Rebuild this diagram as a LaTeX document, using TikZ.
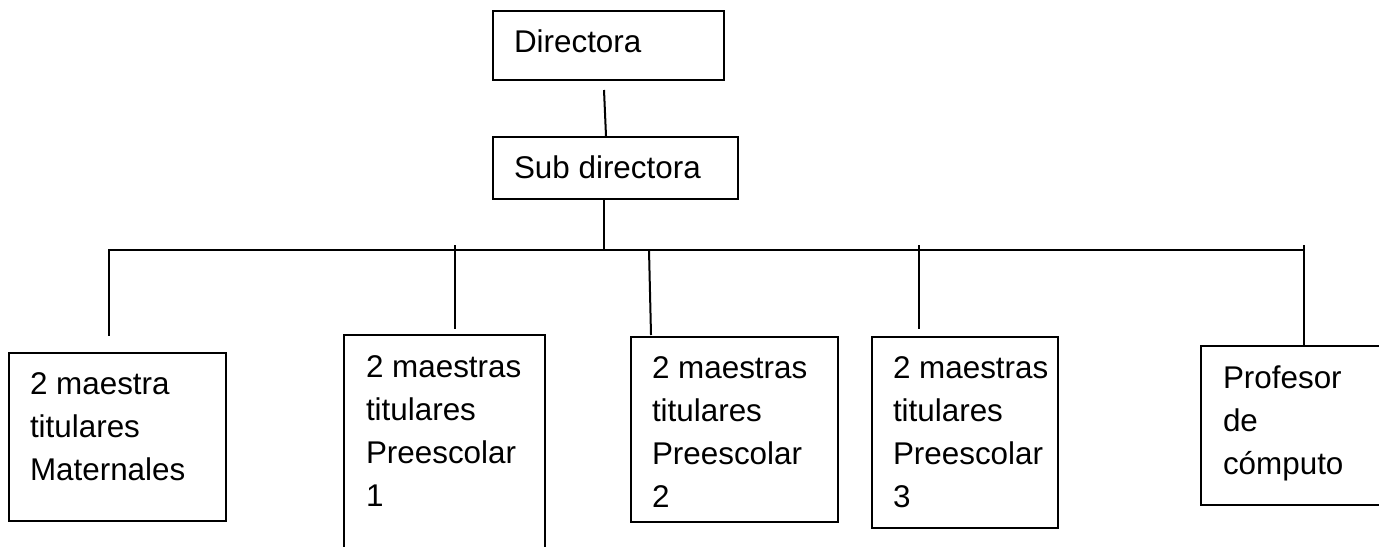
\documentclass[tikz,border=0pt]{standalone}
\usepackage{fontspec}
\setmainfont{Liberation Sans}
\usetikzlibrary{calc}

\newcommand{\caja}[3]{\parbox[t][#2][t]{#1}{\raggedright\hyphenpenalty=10000\exhyphenpenalty=10000\hfuzz=20pt
  \spaceskip=0.278em\relax\rule{0pt}{12.5pt}#3}}

\tikzset{
  cargo/.style={draw, line width=1pt, anchor=north west, inner xsep=10.5pt, inner ysep=8pt,
    font=\fontsize{15.7pt}{21.65pt}\selectfont},
  abierto/.style={cargo, draw=none},
  linea/.style={line width=1pt}
}

\begin{document}
\begin{tikzpicture}[x=0.5pt, y=-0.5pt]
  \useasboundingbox (0,0) rectangle (1379,546);
  \node[cargo] (dir) at (492,10) {\caja{94.5pt}{18.5pt}{Directora}};
  \node[cargo] (sub) at (492,136) {\caja{101.5pt}{15pt}{Sub directora}};
  \node[cargo] (mat) at (8,352) {\caja{87.5pt}{68pt}{2~maestra\\titulares\\Maternales}};
  \node[abierto] (pre1) at (344,335) {\caja{78.5pt}{89pt}{2~maestras\\titulares\\Preescolar\\1}};
  \node[cargo] (pre2) at (630,336) {\caja{82.5pt}{76.5pt}{2~maestras\\titulares\\Preescolar\\2}};
  \node[cargo] (pre3) at (871,336) {\caja{72pt}{79.5pt}{2~maestras\\titulares\\Preescolar\\3}};
  \node[abierto] (prof) at (1201,346) {\caja{68pt}{62.5pt}{Profesor\\de\\cómputo}};
  \draw[linea] (pre1.south west) -- (pre1.north west) -- (pre1.north east) -- (pre1.south east);
  \draw[linea] (prof.north east) -- (prof.north west) -- (prof.south west) -- (prof.south east);
  \coordinate (nudo) at (604,250);
  \coordinate (busL) at (108,250);
  \coordinate (busR) at (1305,250);
  \draw[linea] ($(dir.south west)+(112,9)$) -- ($(sub.north west)+(114,0)$);
  \draw[linea] ($(sub.south west)+(112,0)$) -- (nudo);
  \draw[linea] (busL) -- (busR);
  \draw[linea] ($(busL)+(1,0)$) -- ($(mat.north west)+(101,-16)$);
  \draw[linea] ($(pre1.north west)+(111,-90)$) -- ($(pre1.north west)+(111,-6)$);
  \draw[linea] ($(pre2.north west)+(19,-86)$) -- ($(pre2.north west)+(21,-1)$);
  \draw[linea] ($(pre3.north west)+(48,-91)$) -- ($(pre3.north west)+(48,-7)$);
  \draw[linea] ($(prof.north west)+(103,-101)$) -- ($(prof.north west)+(103,0)$);
\end{tikzpicture}
\end{document}
